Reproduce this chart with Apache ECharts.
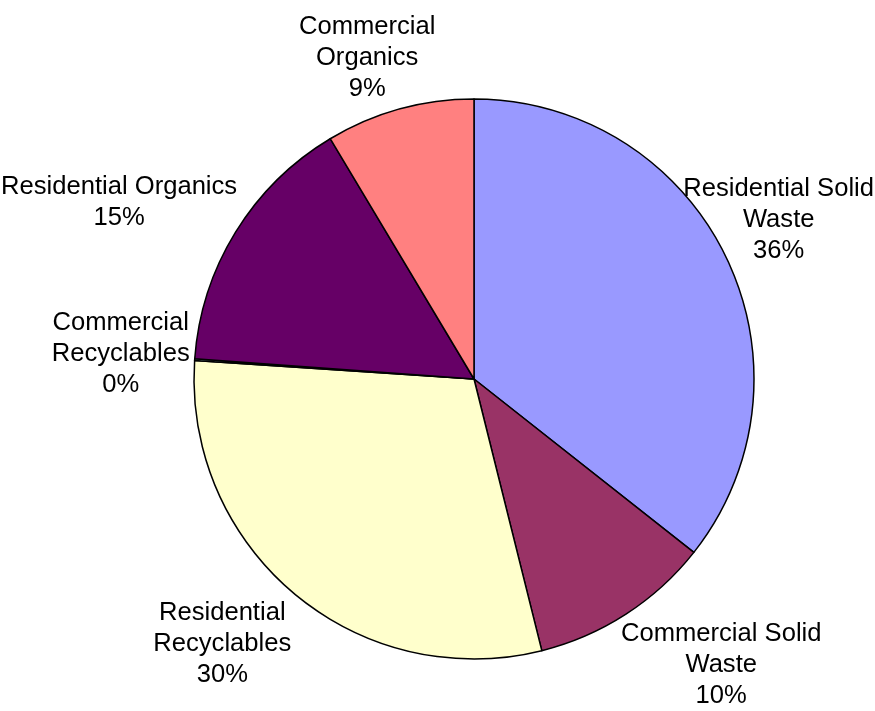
<!DOCTYPE html>
<html>
<head>
<meta charset="utf-8">
<script src="https://cdn.jsdelivr.net/npm/echarts@6/dist/echarts.min.js"></script>
<style>html,body{margin:0;padding:0;background:#fff;}#chart{width:875px;height:711px;}</style>
</head>
<body>
<div id="chart"></div>
<script>
var categories = ['Residential Solid Waste', 'Commercial Solid Waste', 'Residential Recyclables', 'Commercial Recyclables', 'Residential Organics', 'Commercial Organics'];
var labelText = ['Residential Solid\nWaste', 'Commercial Solid\nWaste', 'Residential\nRecyclables', 'Commercial\nRecyclables', 'Residential Organics', 'Commercial\nOrganics'];
var values = [35.7, 10.5, 30.0, 0.1, 15.3, 8.6];
var colors = ['#9999FF', '#993366', '#FFFFCC', '#CCFFFF', '#660066', '#FF8080'];

var chart = echarts.init(document.getElementById('chart'));
var W = 875, H = 711;
var data = categories.map(function (c, i) {
  return { name: c, value: values[i], itemStyle: { color: colors[i] } };
});
function clamp1(v) { return Math.max(-1, Math.min(1, v)); }
chart.setOption({
  animation: false,
  backgroundColor: '#ffffff',
  series: [{
    type: 'pie',
    center: [474, 379],
    radius: 280,
    startAngle: 90,
    clockwise: true,
    avoidLabelOverlap: false,
    emphasis: { disabled: true },
    itemStyle: { borderColor: '#000', borderWidth: 1.5 },
    label: {
      show: true,
      position: 'outside',
      fontFamily: 'Liberation Sans, Arial, sans-serif',
      fontSize: 25.6,
      lineHeight: 31,
      color: '#000',
      align: 'center',
      formatter: function (p) {
        return labelText[p.dataIndex] + '\n' + Math.round(p.percent) + '%';
      }
    },
    labelLine: { show: true, length: 20, length2: 0, lineStyle: { opacity: 0, width: 0 } },
    labelLayout: function (p) {
      var pts = p.labelLinePoints;
      if (!pts) return {};
      var x0 = pts[0][0], y0 = pts[0][1], x1 = pts[1][0], y1 = pts[1][1];
      var len = Math.sqrt((x1 - x0) * (x1 - x0) + (y1 - y0) * (y1 - y0)) || 1;
      var dx = (x1 - x0) / len, dy = (y1 - y0) / len;
      var w = p.labelRect.width, h = p.labelRect.height;
      var gap = 5;
      var cx = x0 + dx * gap + clamp1(1.7 * dx) * w / 2;
      var cy = y0 + dy * gap + clamp1(1.7 * dy) * h / 2;
      cx = Math.min(Math.max(cx, w / 2 + 1), W - w / 2 - 1);
      cy = Math.min(Math.max(cy, h / 2), H - h / 2);
      return { x: cx, y: cy, align: 'center', verticalAlign: 'middle' };
    },
    data: data
  }]
});
</script>
</body>
</html>
